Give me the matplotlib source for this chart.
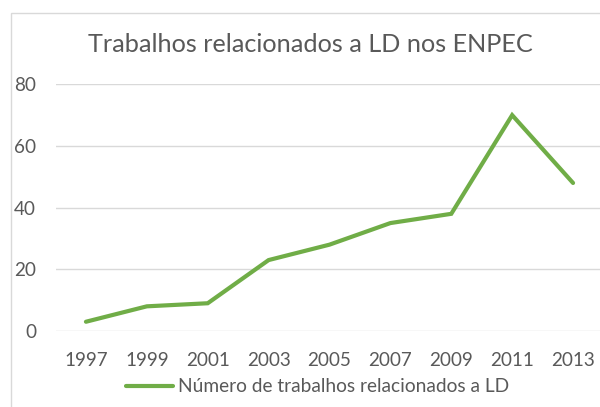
import matplotlib
matplotlib.use("Agg")
import matplotlib.pyplot as plt
from matplotlib.patches import Rectangle

years = ["1997", "1999", "2001", "2003", "2005", "2007", "2009", "2011", "2013"]
values = [3, 8, 9, 23, 28, 35, 38, 70, 48]
yticks = [0, 20, 40, 60, 80]
title = "Trabalhos relacionados a LD nos ENPEC"
series_name = "Número de trabalhos relacionados a LD"

plt.rcParams['font.family'] = ['Lato', 'DejaVu Sans']
TXT = "#595959"
GRID = "#D9D9D9"
GREEN = "#70AD47"

W, H = 600, 407
fig = plt.figure(figsize=(W / 100, H / 100), dpi=100)
fig.patch.set_facecolor("white")

left = 55.5 / W
bottom = (H - 331) / H
top = (H - 84.3) / H
width = 548 / W
ax = fig.add_axes([left, bottom, width, top - bottom])
ax.set_facecolor("none")

x = list(range(len(years)))
line, = ax.plot(x, values, color=GREEN, linewidth=3.0, solid_capstyle="round",
                solid_joinstyle="miter", label=series_name, zorder=3)

ax.set_xlim(-0.5, len(years) - 0.5)
ax.set_ylim(0, 80)
ax.set_yticks(yticks)
ax.set_xticks(x)
ax.set_xticklabels(years)
for s in ax.spines.values():
    s.set_visible(False)
ax.yaxis.grid(True, color=GRID, linewidth=1.0)
ax.set_axisbelow(True)
ax.tick_params(axis="both", length=0, labelsize=13.6, colors=TXT)
ax.tick_params(axis="y", pad=14)
ax.tick_params(axis="x", pad=15)

fig.text(310 / W, 1 - 52 / H, title, ha="center", va="baseline", fontsize=18.2, color=TXT)

leg = ax.legend(handles=[line], loc="center", bbox_to_anchor=(317.5 / W, 1 - 387 / H),
                bbox_transform=fig.transFigure, frameon=False, fontsize=13.8,
                handlelength=2.45, handletextpad=0.27, labelcolor=TXT)

# chart border
fig.add_artist(Rectangle((11 / W, -0.1), 1.2, 1 - 13 / H + 0.1, transform=fig.transFigure,
                         fill=False, edgecolor=GRID, linewidth=1.0, zorder=0))

fig.savefig("out.png", dpi=100, facecolor="white")
